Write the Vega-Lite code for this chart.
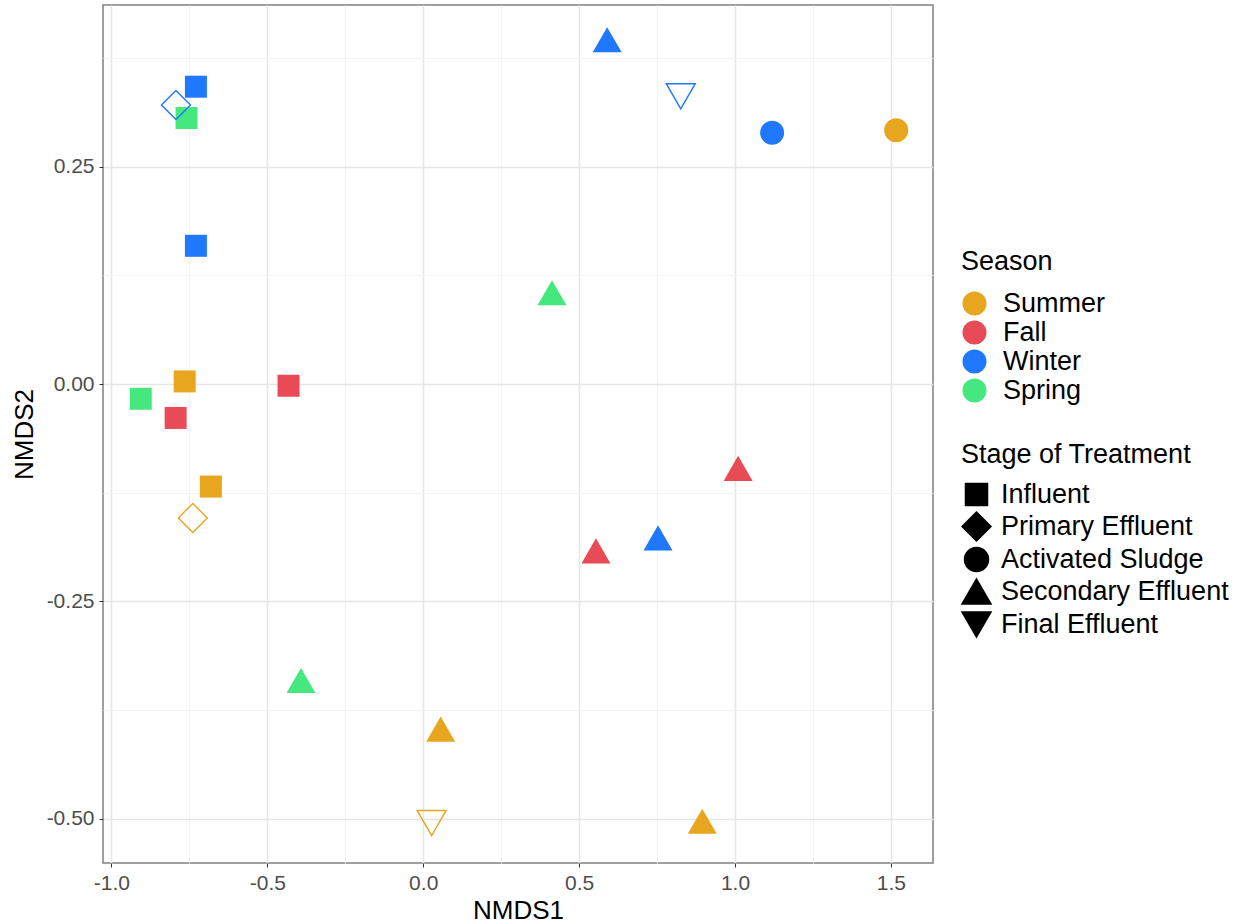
{
  "$schema": "https://vega.github.io/schema/vega-lite/v6.json",
  "width": 830,
  "height": 858,
  "autosize": {"type": "none"},
  "padding": {"left": 103, "top": 5, "right": 316, "bottom": 61},
  "background": "white",
  "config": {
    "font": "Liberation Sans",
    "view": {"stroke": "#808080", "strokeWidth": 1.5},
    "axis": {
      "domain": false,
      "labelFont": "Liberation Sans",
      "labelFontSize": 21,
      "labelColor": "#4D4D4D",
      "titleFont": "Liberation Sans",
      "titleFontSize": 26,
      "titleFontWeight": "normal",
      "titleColor": "#000000",
      "tickColor": "#333333",
      "tickSize": 4,
      "labelPadding": 5
    },
    "legend": {
      "titleFont": "Liberation Sans",
      "labelFont": "Liberation Sans",
      "titleFontSize": 27,
      "labelFontSize": 27,
      "titleFontWeight": "normal",
      "titleColor": "#000000",
      "labelColor": "#000000",
      "labelLimit": 400,
      "titleLimit": 400,
      "padding": 0
    }
  },
  "data": {
    "values": [
      {"season": "Summer", "stage": "Influent", "NMDS1": -0.765, "NMDS2": 0.003},
      {"season": "Summer", "stage": "Influent", "NMDS1": -0.681, "NMDS2": -0.118},
      {"season": "Summer", "stage": "Primary Effluent", "NMDS1": -0.739, "NMDS2": -0.154},
      {"season": "Summer", "stage": "Activated Sludge", "NMDS1": 1.517, "NMDS2": 0.292},
      {"season": "Summer", "stage": "Secondary Effluent", "NMDS1": 0.056, "NMDS2": -0.397},
      {"season": "Summer", "stage": "Secondary Effluent", "NMDS1": 0.895, "NMDS2": -0.503},
      {"season": "Summer", "stage": "Final Effluent", "NMDS1": 0.027, "NMDS2": -0.505},
      {"season": "Fall", "stage": "Influent", "NMDS1": -0.794, "NMDS2": -0.039},
      {"season": "Fall", "stage": "Influent", "NMDS1": -0.432, "NMDS2": -0.002},
      {"season": "Fall", "stage": "Secondary Effluent", "NMDS1": 1.010, "NMDS2": -0.097},
      {"season": "Fall", "stage": "Secondary Effluent", "NMDS1": 0.554, "NMDS2": -0.192},
      {"season": "Spring", "stage": "Influent", "NMDS1": -0.759, "NMDS2": 0.306},
      {"season": "Spring", "stage": "Influent", "NMDS1": -0.906, "NMDS2": -0.017},
      {"season": "Spring", "stage": "Secondary Effluent", "NMDS1": 0.413, "NMDS2": 0.105},
      {"season": "Spring", "stage": "Secondary Effluent", "NMDS1": -0.392, "NMDS2": -0.341},
      {"season": "Winter", "stage": "Influent", "NMDS1": -0.729, "NMDS2": 0.342},
      {"season": "Winter", "stage": "Influent", "NMDS1": -0.729, "NMDS2": 0.159},
      {"season": "Winter", "stage": "Primary Effluent", "NMDS1": -0.793, "NMDS2": 0.321},
      {"season": "Winter", "stage": "Activated Sludge", "NMDS1": 1.119, "NMDS2": 0.289},
      {"season": "Winter", "stage": "Secondary Effluent", "NMDS1": 0.590, "NMDS2": 0.396},
      {"season": "Winter", "stage": "Secondary Effluent", "NMDS1": 0.753, "NMDS2": -0.177},
      {"season": "Winter", "stage": "Final Effluent", "NMDS1": 0.826, "NMDS2": 0.331}
    ]
  },
  "mark": {"type": "point", "filled": true, "opacity": 1},
  "encoding": {
    "x": {
      "field": "NMDS1",
      "type": "quantitative",
      "scale": {"domain": [-1.027, 1.635], "nice": false, "zero": false},
      "axis": {
        "title": "NMDS1",
        "values": [-1, -0.75, -0.5, -0.25, 0, 0.25, 0.5, 0.75, 1, 1.25, 1.5],
        "labelExpr": "abs(datum.value*2 - round(datum.value*2)) > 0.01 ? '' : replace(format(datum.value, '.1f'), '\u2212', '-')",
        "gridColor": {"condition": {"test": "abs(datum.value*2 - round(datum.value*2)) > 0.01", "value": "#F2F2F2"}, "value": "#E6E6E6"},
        "gridWidth": {"condition": {"test": "abs(datum.value*2 - round(datum.value*2)) > 0.01", "value": 0.9}, "value": 1.6},
        "tickOpacity": {"condition": {"test": "abs(datum.value*2 - round(datum.value*2)) > 0.01", "value": 0}, "value": 1},
        "titlePadding": 4
      }
    },
    "y": {
      "field": "NMDS2",
      "type": "quantitative",
      "scale": {"domain": [-0.551, 0.436], "nice": false, "zero": false},
      "axis": {
        "title": "NMDS2",
        "values": [-0.5, -0.375, -0.25, -0.125, 0, 0.125, 0.25, 0.375],
        "labelExpr": "abs(datum.value*4 - round(datum.value*4)) > 0.01 ? '' : replace(format(datum.value, '.2f'), '\u2212', '-')",
        "gridColor": {"condition": {"test": "abs(datum.value*4 - round(datum.value*4)) > 0.01", "value": "#F2F2F2"}, "value": "#E6E6E6"},
        "gridWidth": {"condition": {"test": "abs(datum.value*4 - round(datum.value*4)) > 0.01", "value": 0.9}, "value": 1.6},
        "tickOpacity": {"condition": {"test": "abs(datum.value*4 - round(datum.value*4)) > 0.01", "value": 0}, "value": 1},
        "titlePadding": 9
      }
    },
    "fill": {
      "field": "season",
      "type": "nominal",
      "scale": {"domain": ["Summer", "Fall", "Winter", "Spring"], "range": ["#E8A61E", "#E84A56", "#1F78FF", "#45E87E"]},
      "legend": {
        "title": "Season",
        "orient": "none",
        "legendX": 858,
        "legendY": 244,
        "symbolType": "circle",
        "symbolSize": 576,
        "symbolStrokeWidth": 0,
        "titlePadding": 14,
        "rowPadding": 1,
        "labelOffset": 15
      }
    },
    "fillOpacity": {
      "condition": {"test": "datum.stage == 'Primary Effluent' || datum.stage == 'Final Effluent'", "value": 0},
      "value": 1
    },
    "stroke": {
      "field": "season",
      "type": "nominal",
      "scale": {"domain": ["Summer", "Fall", "Winter", "Spring"], "range": ["#E8A61E", "#E84A56", "#1F78FF", "#45E87E"]},
      "legend": null
    },
    "strokeWidth": {
      "condition": {"test": "datum.stage == 'Primary Effluent' || datum.stage == 'Final Effluent'", "value": 1.4},
      "value": 0
    },
    "shape": {
      "field": "stage",
      "type": "nominal",
      "scale": {
        "domain": ["Influent", "Primary Effluent", "Activated Sludge", "Secondary Effluent", "Final Effluent"],
        "range": ["square", "diamond", "circle", "triangle-up", "triangle-down"]
      },
      "legend": {
        "title": "Stage of Treatment",
        "orient": "none",
        "legendX": 858,
        "legendY": 437,
        "titlePadding": 12,
        "rowPadding": 0,
        "labelOffset": 9,
        "symbolFillColor": "black",
        "symbolStrokeColor": "black"
      }
    },
    "size": {
      "field": "stage",
      "type": "nominal",
      "scale": {
        "type": "ordinal",
        "domain": ["Influent", "Primary Effluent", "Activated Sludge", "Secondary Effluent", "Final Effluent"],
        "range": [484, 841, 576, 841, 841]
      },
      "legend": {
        "title": "Stage of Treatment",
        "orient": "none",
        "legendX": 858,
        "legendY": 437,
        "titlePadding": 12,
        "rowPadding": 0,
        "labelOffset": 9,
        "symbolFillColor": "black",
        "symbolStrokeColor": "black"
      }
    }
  }
}
